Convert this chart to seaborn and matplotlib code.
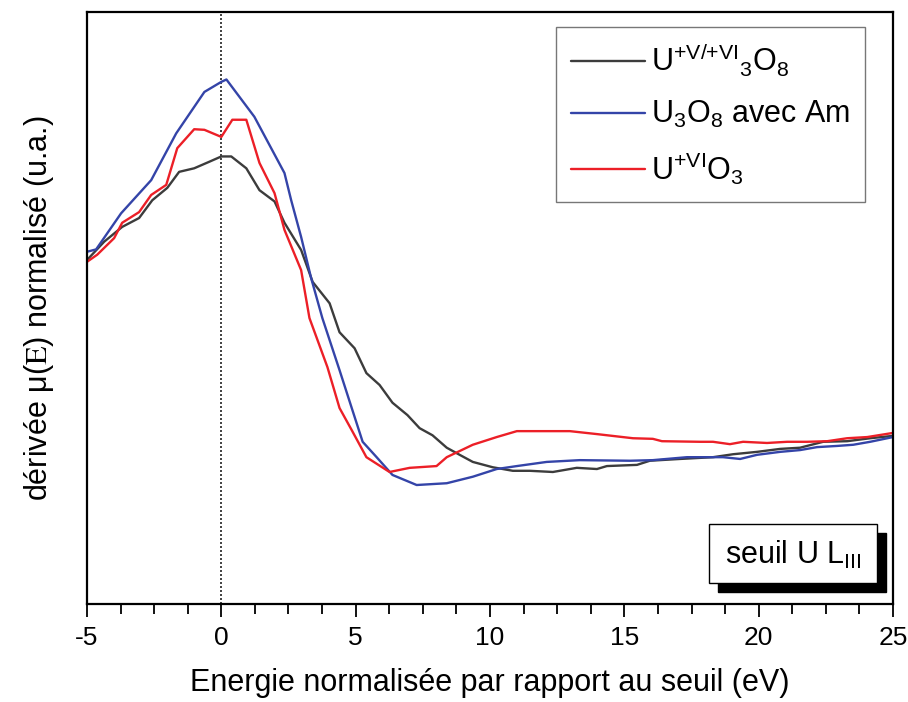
import matplotlib
matplotlib.use('Agg')
import matplotlib.pyplot as plt
import seaborn as sns
import pandas as pd
from matplotlib.patches import Rectangle
from matplotlib.ticker import MultipleLocator

# U(+V/+VI)3O8 reference
x_u3o8 = [-5.0, -4.36, -3.69, -3.06, -2.57, -2.01, -1.57, -1.01, -0.45, 0.0, 0.37, 0.93,
          1.42, 1.98, 2.35, 2.97, 3.40, 4.03, 4.40, 4.96, 5.40, 5.89, 6.37, 6.93, 7.38,
          7.86, 8.39, 8.87, 9.36, 10.10, 10.85, 11.48, 12.34, 13.23, 13.98, 14.35, 15.47,
          15.95, 17.07, 18.30, 19.05, 19.94, 20.80, 21.54, 22.40, 23.29, 24.15, 25.0]
y_u3o8 = [0.581, 0.612, 0.637, 0.652, 0.682, 0.703, 0.730, 0.736, 0.747, 0.756, 0.756, 0.736,
          0.699, 0.680, 0.644, 0.598, 0.544, 0.508, 0.459, 0.432, 0.390, 0.370, 0.340, 0.319,
          0.297, 0.285, 0.264, 0.252, 0.240, 0.231, 0.225, 0.225, 0.223, 0.230, 0.228, 0.233,
          0.235, 0.242, 0.245, 0.248, 0.253, 0.257, 0.262, 0.264, 0.274, 0.275, 0.280, 0.284]

# U3O8 with Am
x_am = [-5.0, -4.66, -3.73, -2.61, -1.68, -0.63, 0.0, 0.19, 1.23, 2.35, 2.60, 2.97, 3.34,
        3.76, 4.40, 4.84, 5.26, 5.78, 6.37, 7.27, 8.39, 9.36, 10.25, 11.00, 12.11, 13.34,
        15.21, 16.06, 17.33, 18.67, 19.31, 19.94, 20.80, 21.54, 22.17, 22.92, 23.52, 24.15, 25.0]
y_am = [0.595, 0.599, 0.660, 0.716, 0.795, 0.865, 0.882, 0.886, 0.823, 0.728, 0.682, 0.620,
        0.551, 0.483, 0.395, 0.333, 0.274, 0.248, 0.218, 0.201, 0.204, 0.215, 0.228, 0.233,
        0.240, 0.243, 0.242, 0.243, 0.248, 0.248, 0.245, 0.252, 0.257, 0.260, 0.265, 0.267,
        0.269, 0.274, 0.282]

# U(+VI)O3 reference
x_uo3 = [-5.0, -4.62, -3.99, -3.69, -3.06, -2.61, -2.05, -1.64, -1.01, -0.63, 0.0, 0.41,
         0.93, 1.42, 1.98, 2.35, 2.97, 3.28, 3.95, 4.40, 4.85, 5.40, 6.26, 7.01, 8.01, 8.39,
         9.36, 10.25, 11.00, 12.11, 12.97, 13.98, 15.32, 16.06, 16.40, 17.82, 18.30, 18.93,
         19.42, 20.31, 21.06, 21.80, 22.55, 23.29, 24.04, 25.0]
y_uo3 = [0.578, 0.590, 0.618, 0.644, 0.662, 0.691, 0.708, 0.770, 0.802, 0.801, 0.789, 0.818,
         0.818, 0.745, 0.694, 0.632, 0.564, 0.483, 0.400, 0.331, 0.294, 0.248, 0.223, 0.230,
         0.233, 0.248, 0.269, 0.282, 0.292, 0.292, 0.292, 0.287, 0.280, 0.279, 0.275, 0.274,
         0.274, 0.270, 0.274, 0.272, 0.274, 0.274, 0.275, 0.280, 0.282, 0.289]

labels = [r'U$^{{+}V/{+}VI}{}_{3}$O$_{8}$', r'U$_{3}$O$_{8}$ avec Am', r'U$^{{+}VI}$O$_{3}$']
colors = ['#3c3c3c', '#3444a8', '#ec1f27']

frames = []
for lab, xs, ys in zip(labels, [x_u3o8, x_am, x_uo3], [y_u3o8, y_am, y_uo3]):
    frames.append(pd.DataFrame({'energie': xs, 'derivee': ys, 'echantillon': lab}))
df = pd.concat(frames, ignore_index=True)

sns.set_style('white')
plt.rcParams['font.family'] = ['Liberation Sans', 'DejaVu Sans']
plt.rcParams['mathtext.fontset'] = 'custom'
plt.rcParams['mathtext.rm'] = 'Liberation Sans'
plt.rcParams['mathtext.it'] = 'Liberation Sans'
plt.rcParams['mathtext.default'] = 'regular'
plt.rcParams['axes.unicode_minus'] = False
plt.rcParams['text.color'] = 'black'
plt.rcParams['axes.labelcolor'] = 'black'
plt.rcParams['xtick.color'] = 'black'

fig = plt.figure(figsize=(9.08, 7.02), dpi=100)
ax = fig.add_axes([0.0958, 0.1396, 0.8877, 0.8433])

sns.lineplot(data=df, x='energie', y='derivee', hue='echantillon',
             palette=dict(zip(labels, colors)), hue_order=labels,
             estimator=None, sort=False, linewidth=1.7, ax=ax)

ax.axvline(0, color='#222222', linestyle=(0, (1.2, 1.2)), linewidth=1.2, zorder=1)

ax.set_xlim(-5, 25)
ax.set_ylim(0, 1)
ax.xaxis.set_major_locator(MultipleLocator(5))
ax.xaxis.set_minor_locator(MultipleLocator(1.25))
ax.tick_params(axis='x', which='major', direction='out', length=9, width=1.3,
               labelsize=19, pad=7, bottom=True, labelcolor='black')
ax.tick_params(axis='x', which='minor', direction='out', length=7, width=1.3, bottom=True)
ax.set_yticks([])

for side in ['left', 'right', 'top', 'bottom']:
    ax.spines[side].set_visible(True)
    ax.spines[side].set_color('black')
    ax.spines[side].set_linewidth(1.6)

ax.set_xlabel('Energie normalisée par rapport au seuil (eV)', fontsize=22, labelpad=13)
ax.set_ylabel(r'dérivée $\mu(\mathrm{E})$ normalisé (u.a.)', fontsize=22, labelpad=22,
              math_fontfamily='stix')

leg = ax.legend(loc='upper right', bbox_to_anchor=(0.965, 0.975), borderaxespad=0,
                fontsize=22, frameon=True, fancybox=False, handlelength=2.4,
                labelspacing=0.66, borderpad=0.5, handletextpad=0.2)
leg.get_frame().set_edgecolor('#555555')
leg.get_frame().set_linewidth(1.0)
for h in leg.get_lines():
    h.set_linewidth(1.7)
for t in leg.get_texts():
    t.set_color('black')

# shadowed annotation box
ax.add_patch(Rectangle((0.783, 0.020), 0.208, 0.100, transform=ax.transAxes,
                       facecolor='black', edgecolor='black', zorder=4))
ax.add_patch(Rectangle((0.772, 0.035), 0.208, 0.100, transform=ax.transAxes,
                       facecolor='white', edgecolor='black', linewidth=1.0, zorder=5))
ax.text(0.876, 0.083, r'seuil U L$_{III}$', transform=ax.transAxes, fontsize=22,
        ha='center', va='center', zorder=6)

plt.savefig('out.png', dpi=100)
plt.close()
